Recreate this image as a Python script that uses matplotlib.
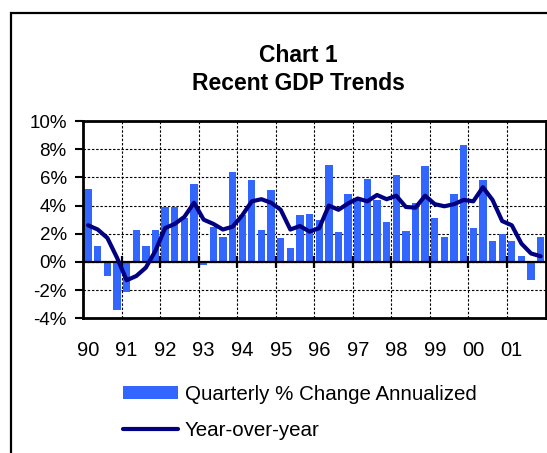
import matplotlib
matplotlib.use('Agg')
import matplotlib.pyplot as plt
import numpy as np
from matplotlib.patches import Rectangle

plt.rcParams['font.family'] = ['Liberation Sans', 'DejaVu Sans']

year_labels = ['90', '91', '92', '93', '94', '95', '96', '97', '98', '99', '00', '01']

quarterly_change = [
    5.2, 1.1, -1.0, -3.4,
    -2.1, 2.3, 1.1, 2.3,
    3.9, 3.9, 3.1, 5.5,
    -0.2, 2.5, 1.8, 6.4,
    3.3, 5.8, 2.3, 5.1,
    1.7, 1.0, 3.3, 3.4,
    3.0, 6.9, 2.1, 4.8,
    4.5, 5.9, 4.4, 2.8,
    6.2, 2.2, 4.2, 6.8,
    3.1, 1.8, 4.8, 8.3,
    2.4, 5.8, 1.5, 2.0,
    1.5, 0.4, -1.3, 1.8,
]

year_over_year = [
    2.6, 2.3, 1.7, 0.3,
    -1.3, -1.0, -0.4, 0.8,
    2.4, 2.7, 3.2, 4.2,
    3.0, 2.7, 2.3, 2.5,
    3.3, 4.3, 4.45, 4.2,
    3.7, 2.3, 2.55, 2.15,
    2.4, 4.0, 3.7, 4.15,
    4.5, 4.3, 4.75, 4.45,
    4.7, 3.9, 3.85, 4.7,
    4.1, 3.95, 4.1, 4.4,
    4.3, 5.3, 4.4, 2.9,
    2.6, 1.3, 0.6, 0.4,
]

y_ticks = [-4, -2, 0, 2, 4, 6, 8, 10]

W, H = 547, 453
fig = plt.figure(figsize=(W / 100, H / 100), dpi=100)

left, right, top, bottom = 83.3, 545.5, 121.0, 318.3
ax = fig.add_axes([left / W, 1 - bottom / H, (right - left) / W, (bottom - top) / H])

n = len(quarterly_change)
x = np.arange(n)
bars = ax.bar(x, quarterly_change, width=0.76, color='#3366FF', zorder=2,
              label='Quarterly % Change Annualized')
line, = ax.plot(x, year_over_year, color='#000080', lw=3.0, zorder=4,
                solid_joinstyle='round', solid_capstyle='round', label='Year-over-year')

ax.set_xlim(-0.5, n - 0.5)
ax.set_ylim(-4, 10)

ax.set_yticks(y_ticks)
ax.set_yticklabels([f'{v}%' for v in y_ticks], fontsize=13.5)
ax.tick_params(axis='y', direction='out', length=6, width=1.5, pad=6, colors='black')

major = np.arange(0, n, 4)
ax.set_xticks(major)
ax.set_xticklabels(year_labels, fontsize=14.5)
ax.tick_params(axis='x', which='major', length=0, pad=16)
boundaries = np.arange(3.5, n - 1, 4)
ax.set_xticks(boundaries, minor=True)
ax.tick_params(axis='x', which='minor', length=0)

ax.grid(axis='y', which='major', color='black', lw=0.8, ls=(0, (2.2, 1.6)), zorder=1)
ax.grid(axis='x', which='minor', color='black', lw=0.8, ls=(0, (2.2, 1.6)), zorder=1)
ax.set_axisbelow(True)

ax.axhline(0, color='black', lw=1.6, zorder=3)
ax.vlines(boundaries, -0.45, 0.45, color='black', lw=1.6, zorder=3)

for s in ax.spines.values():
    s.set_color('black')
    s.set_linewidth(2.0)

# titles
fig.text(298 / W, 1 - 61.7 / H, 'Chart 1', ha='center', va='baseline',
         fontsize=16.5, fontweight='bold')
fig.text(298 / W, 1 - 90.0 / H, 'Recent GDP Trends', ha='center', va='baseline',
         fontsize=16.5, fontweight='bold')

# outer frame
fig.add_artist(Rectangle((10.5 / W, -0.2), 1.5, 1.2 - 12.8 / H, transform=fig.transFigure,
                         fill=False, edgecolor='black', lw=1.6))

fig.legend([bars, line], ['Quarterly % Change Annualized', 'Year-over-year'],
           loc='center left', bbox_to_anchor=(122.7 / W, 1 - 412.5 / H), frameon=False,
           fontsize=14.8, handlelength=2.7, handletextpad=0.33, labelspacing=0.85,
           borderpad=0, borderaxespad=0, handleheight=0.65)

fig.savefig('out.png', dpi=100)
